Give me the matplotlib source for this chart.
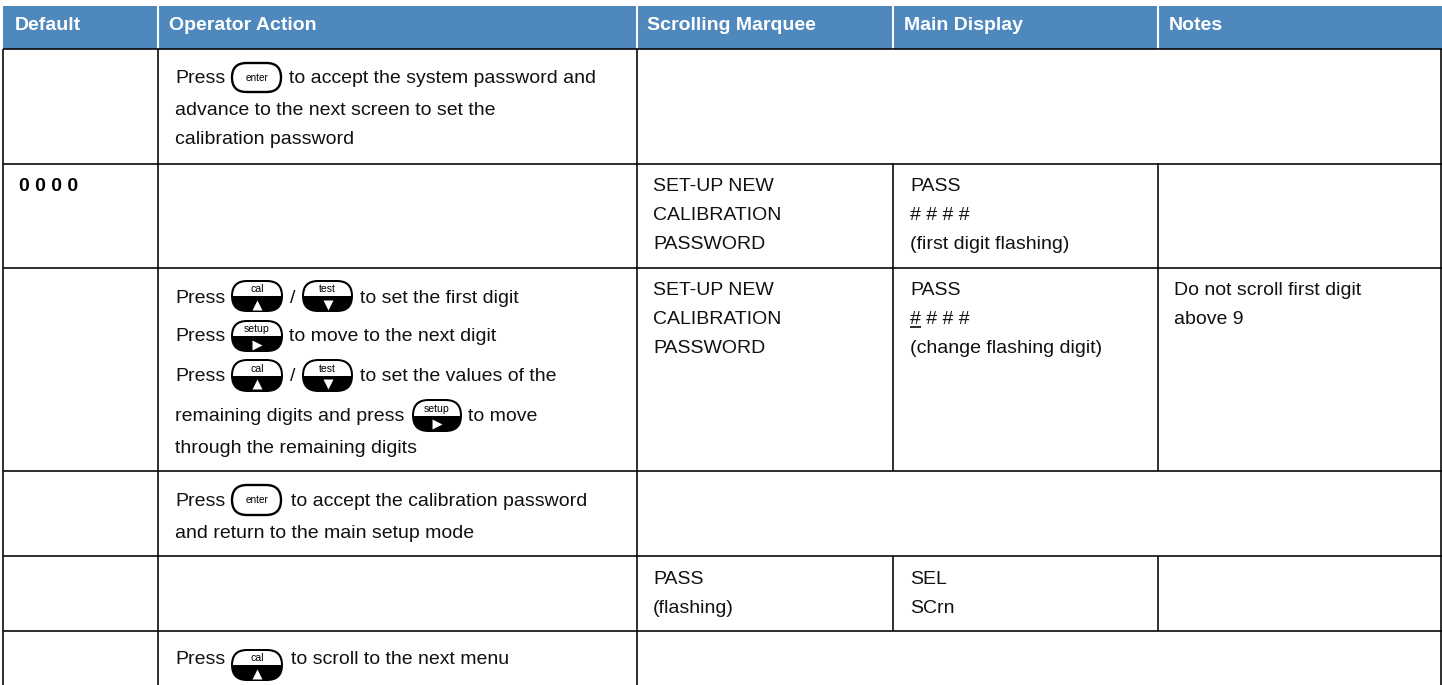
#!/usr/bin/env python3
import matplotlib
matplotlib.use('Agg')
import matplotlib.pyplot as plt
from matplotlib.patches import FancyBboxPatch, Rectangle

# table content
headers = ['Default', 'Operator Action', 'Scrolling Marquee', 'Main Display', 'Notes']
default_value = '0 0 0 0'
marquee_new = ['SET-UP NEW', 'CALIBRATION', 'PASSWORD']
display_first = ['PASS', '# # # #', '(first digit flashing)']
display_change = ['PASS', '# # # #', '(change flashing digit)']
notes_digit = ['Do not scroll first digit', 'above 9']
marquee_pass = ['PASS', '(flashing)']
display_sel = ['SEL', 'SCrn']

# layout, in pixels of the page
col_edges = [3, 158, 637, 893, 1158, 1441]
row_edges = [49, 164, 268, 471, 556, 631]
header_pad = [12, 11, 10, 11, 11]
header_blue = '#4f88bd'
ink = '#111111'
body_px = 19.5
head_px = 19.5
line_w = 1.15
narrow = 'Liberation Sans'

fig = plt.figure(figsize=(14.42, 6.85), dpi=100)
ax = fig.add_axes([0, 0, 1, 1])
ax.set_xlim(0, 1442)
ax.set_ylim(685, 0)
ax.axis('off')


def px(size):
    return size * 72 / 100


def say(x, y, s, size=body_px, **kw):
    kw.setdefault('color', ink)
    return ax.text(x, y, s, fontsize=px(size), family=narrow, va='baseline', ha='left', **kw)


def block(x, ys, lines):
    for y, s in zip(ys, lines):
        say(x, y, s)


def key(x0, x1, y0, y1, label, marker=None):
    h = y1 - y0
    r = h / 2
    if marker is None:
        # white key with a black outline
        ax.add_patch(FancyBboxPatch((x0 + 1, y0 + 1), x1 - x0 - 2, h - 2,
                                    boxstyle='round,pad=0,rounding_size=%f' % (r - 1),
                                    fc='white', ec='black', lw=1.7, zorder=3))
        ax.text((x0 + x1) / 2, (y0 + y1) / 2, label, fontsize=px(10), family=narrow,
                ha='center', va='center', color='black', zorder=4)
        return
    ax.add_patch(FancyBboxPatch((x0, y0), x1 - x0, h,
                                boxstyle='round,pad=0,rounding_size=%f' % r,
                                fc='black', ec='none', zorder=3))
    dome = FancyBboxPatch((x0 + 2, y0 + 2), x1 - x0 - 4, h - 4,
                          boxstyle='round,pad=0,rounding_size=%f' % (r - 2),
                          fc='white', ec='none', zorder=4)
    ax.add_patch(dome)
    dome.set_clip_path(Rectangle((x0, y0), x1 - x0, h * 0.5, transform=ax.transData))
    ax.text((x0 + x1) / 2, y0 + h * 0.29, label, fontsize=px(10.5), family=narrow,
            ha='center', va='center', color='black', zorder=5)
    ax.plot([(x0 + x1) / 2], [y0 + h * 0.77], marker=marker, ms=6.5, color='white', mec='none', zorder=5)


# header band
ax.add_patch(Rectangle((col_edges[0], 6), 1442 - col_edges[0], row_edges[0] - 6, fc=header_blue, ec='none'))
for x in col_edges[1:-1]:
    ax.plot([x, x], [6, row_edges[0]], color='white', lw=1.5, solid_capstyle='butt')
for x, pad, name in zip(col_edges[:-1], header_pad, headers):
    say(x + pad, 30, name, size=head_px, color='white', fontweight='bold')

# grid lines
for y in row_edges:
    ax.plot([col_edges[0], 1442], [y, y], color='black', lw=line_w, solid_capstyle='butt')
for x in [col_edges[0], col_edges[1], col_edges[2], col_edges[5]]:
    ax.plot([x, x], [row_edges[0], 685], color='black', lw=line_w, solid_capstyle='butt')
for x in col_edges[3:5]:
    ax.plot([x, x], [row_edges[1] - 1, row_edges[3]], color='black', lw=line_w, solid_capstyle='butt')
    ax.plot([x, x], [row_edges[4], row_edges[5]], color='black', lw=line_w, solid_capstyle='butt')

# first row
say(175, 83, 'Press')
key(231, 282, 62, 93, 'enter')
say(289, 83, 'to accept the system password and')
say(175, 115, 'advance to the next screen to set the')
say(175, 144, 'calibration password')

# default row
say(19, 191, default_value, color='black', fontweight='bold')
block(653, [191, 220, 249], marquee_new)
block(910, [191, 220, 249], display_first)

# digit entry row
say(175, 303, 'Press')
key(231, 283, 280, 312, 'cal', '^')
say(290, 303, '/')
key(302, 353, 280, 312, 'test', 'v')
say(360, 303, 'to set the first digit')
say(175, 341, 'Press')
key(231, 283, 320, 352, 'setup', '>')
say(289, 341, 'to move to the next digit')
say(175, 381, 'Press')
key(231, 283, 359, 392, 'cal', '^')
say(290, 381, '/')
key(302, 353, 359, 392, 'test', 'v')
say(360, 381, 'to set the values of the')
say(175, 421, 'remaining digits and press')
key(412, 462, 399, 432, 'setup', '>')
say(468, 421, 'to move')
say(175, 453, 'through the remaining digits')
block(653, [295, 324, 353], marquee_new)
block(910, [295, 324, 353], display_change)
ax.plot([910, 921], [327, 327], color='black', lw=line_w, solid_capstyle='butt')
block(1174, [295, 324], notes_digit)

# accept row
say(175, 506, 'Press')
key(231, 282, 484, 516, 'enter')
say(291, 506, 'to accept the calibration password')
say(175, 538, 'and return to the main setup mode')

# pass row
block(653, [584, 613], marquee_pass)
block(910, [584, 613], display_sel)

# last row
say(175, 664, 'Press')
key(231, 283, 649, 681, 'cal', '^')
say(291, 664, 'to scroll to the next menu')

fig.savefig('out.png', dpi=100)
